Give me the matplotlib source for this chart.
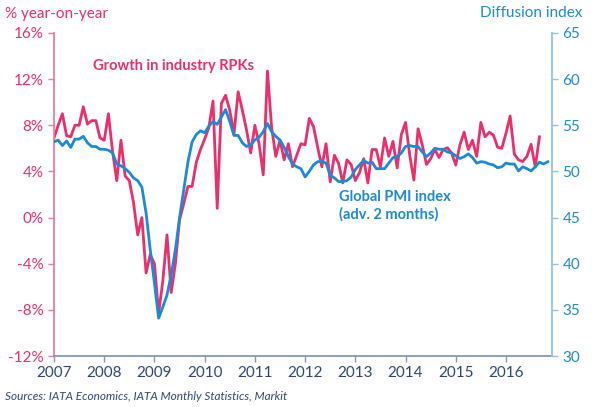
import numpy as np
import matplotlib.pyplot as plt

# monthly series, Jan 2007 onwards
rpk_growth = [6.9, 8.0, 9.0, 7.1, 7.0, 8.0, 8.0, 9.6, 8.1, 8.4, 8.4, 6.9,
              6.7, 9.0, 5.7, 3.2, 6.7, 3.6, 3.2, 1.3, -1.5, 0.0, -4.8, -3.2,
              -4.0, -8.3, -5.5, -1.5, -6.5, -4.0, -0.2, 1.2, 2.7, 2.7, 4.8, 5.9,
              6.8, 7.8, 10.1, 0.8, 9.9, 10.6, 9.3, 7.2, 10.9, 9.3, 7.6, 5.6,
              8.0, 6.4, 3.7, 12.7, 7.8, 5.3, 6.7, 5.0, 6.4, 4.4, 5.4, 6.4,
              6.3, 8.6, 7.9, 6.1, 4.4, 6.4, 3.1, 5.4, 4.7, 3.0, 5.0, 4.6,
              3.2, 3.9, 5.1, 3.0, 5.9, 5.9, 4.4, 6.9, 5.3, 6.6, 4.3, 7.2,
              8.25, 5.4, 3.25, 7.7, 6.3, 4.6, 5.1, 5.9, 5.2, 5.9, 6.05, 5.6,
              4.55, 6.3, 7.4, 5.9, 6.7, 5.3, 8.25, 7.0, 7.4, 7.15, 6.1, 6.0,
              7.3, 8.8, 5.5, 5.0, 4.85, 5.3, 6.35, 4.4, 7.0]

pmi = [53.2, 53.4, 52.8, 53.3, 52.6, 53.5, 53.5, 53.8, 53.1, 52.7, 52.7, 52.4,
       52.4, 52.3, 52.0, 50.8, 50.6, 50.3, 49.9, 49.3, 49.0, 48.3, 45.5, 41.5,
       37.9, 34.1, 35.3, 36.6, 38.8, 41.5, 45.0, 48.0, 51.0, 53.2, 54.0, 54.4,
       54.2, 54.9, 55.4, 55.1, 55.9, 56.7, 55.4, 53.9, 53.9, 53.1, 52.7, 52.9,
       53.4, 53.7, 54.3, 55.2, 54.3, 53.8, 53.4, 52.6, 51.6, 50.8, 50.5, 50.3,
       49.4, 50.0, 50.7, 51.05, 51.1, 50.9, 49.6, 49.3, 48.9, 48.9, 49.0, 49.4,
       50.2, 50.7, 51.2, 50.9, 51.0, 50.3, 50.3, 50.3, 50.9, 51.5, 51.6, 52.0,
       52.7, 52.8, 52.7, 52.7, 52.1, 51.6, 52.0, 52.5, 52.4, 52.4, 52.1, 52.0,
       51.7, 51.4, 51.6, 51.9, 51.5, 50.9, 51.05, 51.0, 50.8, 50.7, 50.4, 50.5,
       50.9, 50.8, 50.8, 50.05, 50.5, 50.3, 50.05, 50.5, 51.0, 50.8, 51.05]

years = list(range(2007, 2017))
left_ticks = [-12, -8, -4, 0, 4, 8, 12, 16]
right_ticks = [30, 35, 40, 45, 50, 55, 60, 65]

pink = '#EC2F6A'
blue = '#1B8BD6'
navy = '#2E4677'

plt.rcParams['font.family'] = ['Lato', 'DejaVu Sans']

t_rpk = 2007 + np.arange(len(rpk_growth)) / 12
t_pmi = 2007 + np.arange(len(pmi)) / 12

fig = plt.figure(figsize=(6, 4.07), dpi=100)
ax = fig.add_axes([0.09, 0.1253, 0.83, 0.7937])
ax2 = ax.twinx()

ax.plot(t_rpk, rpk_growth, color=pink, lw=2)
ax2.plot(t_pmi, pmi, color=blue, lw=2)

ax.set_xlim(2007, 2016 + 11 / 12)
ax.set_ylim(-12, 16)
ax2.set_ylim(30, 65)

ax.set_xticks(years)
ax.set_xticklabels([str(y) for y in years], color=navy, fontsize=11)
ax.set_yticks(left_ticks)
ax.set_yticklabels([f"{v}%" for v in left_ticks], color=pink, fontsize=11)
ax2.set_yticks(right_ticks)
ax2.set_yticklabels([str(v) for v in right_ticks], color=blue, fontsize=11)

for a in (ax, ax2):
    a.spines['top'].set_visible(False)
ax.spines['right'].set_visible(False)
ax2.spines['left'].set_visible(False)
ax2.spines['bottom'].set_visible(False)
ax.spines['left'].set_color('#F07AA0')
ax.spines['bottom'].set_color('#8797B3')
ax2.spines['right'].set_color('#8CC4E8')
for s in ('left', 'bottom'):
    ax.spines[s].set_linewidth(1.3)
ax2.spines['right'].set_linewidth(1.3)

ax.tick_params(axis='y', colors='#F07AA0', labelcolor=pink, length=4, width=1)
ax.tick_params(axis='x', colors='#8797B3', labelcolor=navy, length=4, width=1)
ax2.tick_params(axis='y', colors='#8CC4E8', labelcolor=blue, length=4, width=1)

fig.text(0.008, 0.966, "% year-on-year", color=pink, fontsize=11, va='center')
fig.text(0.97, 0.968, "Diffusion index", color=blue, fontsize=11, va='center', ha='right')

ax.text(2007.77, 13.1, "Growth in industry RPKs", color=pink, fontsize=10.5,
        fontweight='bold', va='center')
ax2.text(2012.67, 46.3, "Global PMI index\n(adv. 2 months)", color=blue, fontsize=10.5,
         fontweight='bold', va='center', linespacing=1.25)

fig.text(0.008, 0.027, "Sources: IATA Economics, IATA Monthly Statistics, Markit",
         color=navy, fontsize=8.5, style='italic', va='center')

fig.savefig('out.png', dpi=100)
